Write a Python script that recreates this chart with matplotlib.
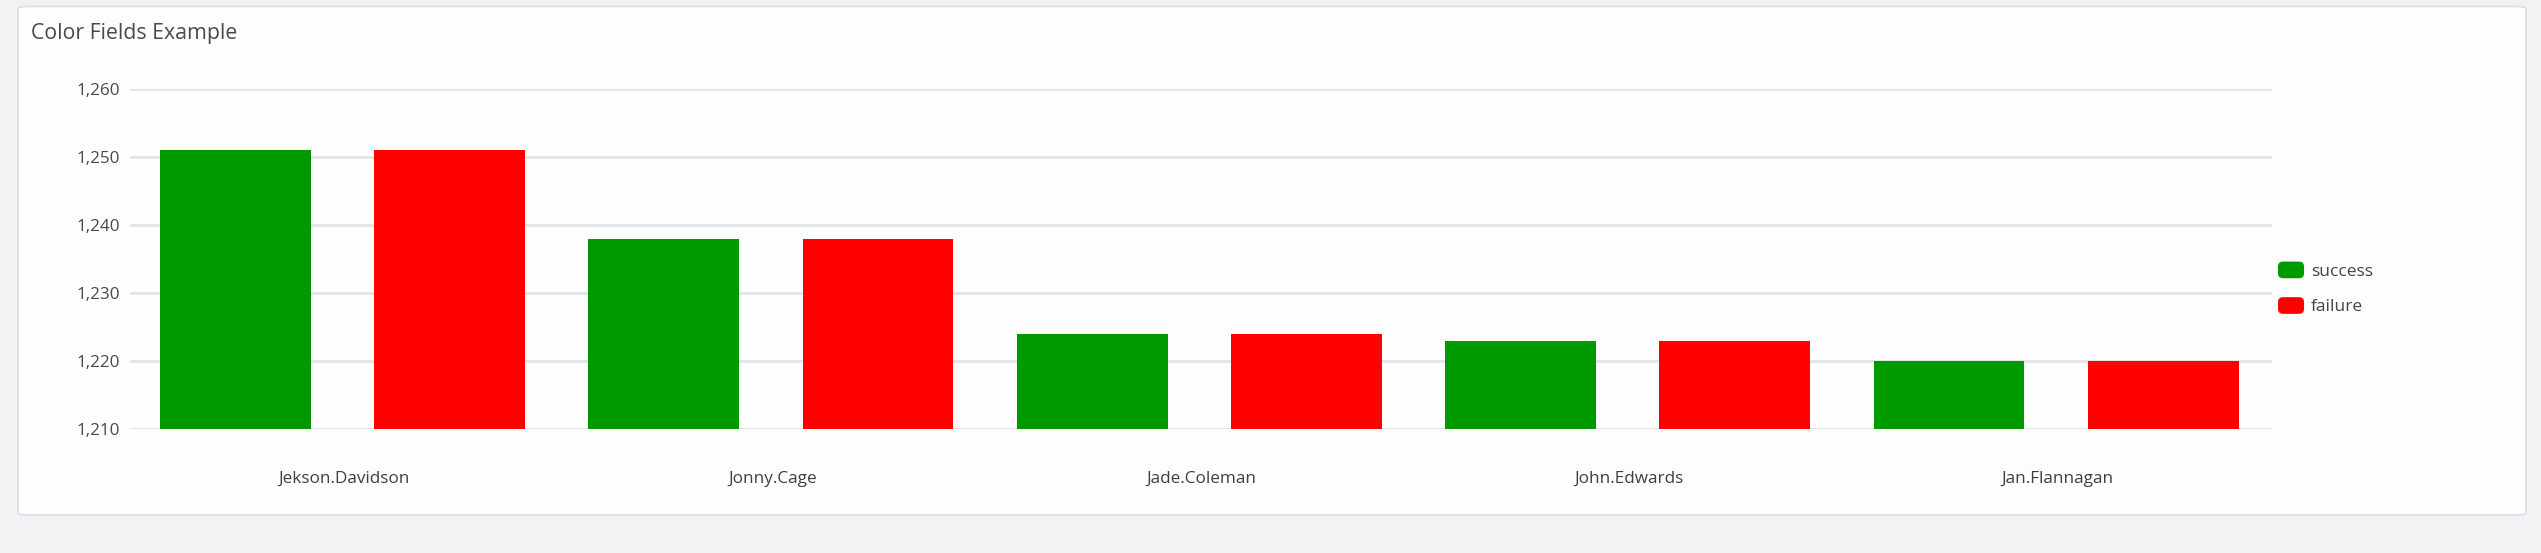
import matplotlib
matplotlib.use("Agg")
import matplotlib.pyplot as plt
from matplotlib.patches import FancyBboxPatch, Patch
from matplotlib.legend_handler import HandlerPatch
from matplotlib.ticker import FuncFormatter
import numpy as np

plt.rcParams['font.family'] = ['Open Sans', 'DejaVu Sans']

title = "Color Fields Example"
categories = ["Jekson.Davidson", "Jonny.Cage", "Jade.Coleman", "John.Edwards", "Jan.Flannagan"]
series_names = ["success", "failure"]
success = [1251, 1238, 1224, 1223, 1220]
failure = [1251, 1238, 1224, 1223, 1220]
colors = ["#009900", "#ff0000"]
yticks = [1210, 1220, 1230, 1240, 1250, 1260]

W, H = 2541, 553
fig = plt.figure(figsize=(W / 100, H / 100), dpi=100)
fig.patch.set_facecolor("#f1f2f4")

# card
card = FancyBboxPatch((18 / W, 1 - 515 / H), (2526 - 18) / W, (515 - 6.5) / H,
                      boxstyle="round,pad=0,rounding_size=0.004",
                      transform=fig.transFigure, facecolor="#fdfdfe",
                      edgecolor="#dcdfe3", linewidth=1.2, zorder=-10)
fig.patches.append(card)

fig.text(31 / W, 1 - 34 / H, title, fontsize=15.3, color="#4a4a4a",
         ha="left", va="center")

ax = fig.add_axes([130 / W, 1 - 429 / H, (2272 - 130) / W, 340 / H])
ax.set_facecolor("none")
x = np.arange(len(categories))
bw = 0.352
ax.bar(x - 0.254, np.array(success) - yticks[0], bottom=yticks[0], width=bw,
       color=colors[0], zorder=3, label=series_names[0])
ax.bar(x + 0.246, np.array(failure) - yticks[0], bottom=yticks[0], width=bw,
       color=colors[1], zorder=3, label=series_names[1])

ax.set_xlim(-0.5, len(categories) - 0.5)
ax.set_ylim(yticks[0], yticks[-1])
ax.set_yticks(yticks)
ax.yaxis.set_major_formatter(FuncFormatter(lambda v, p: f"{int(v):,}"))
ax.set_xticks(x)
ax.set_xticklabels(categories)
ax.grid(axis="y", color="#e3e4e8", linewidth=2, zorder=0)
ax.set_axisbelow(True)
for s in ax.spines.values():
    s.set_visible(False)
ax.tick_params(axis="y", length=0, pad=7, labelsize=12.3, labelcolor="#4a4a4a")
ax.tick_params(axis="x", length=0, pad=30, labelsize=12.3, labelcolor="#3f3f3f")


class RoundHandler(HandlerPatch):
    def create_artists(self, legend, orig_handle, xdescent, ydescent,
                       width, height, fontsize, trans):
        p = FancyBboxPatch((-xdescent, -ydescent), width, height,
                           boxstyle="round,pad=0,rounding_size=%f" % (height * 0.3),
                           facecolor=orig_handle.get_facecolor(),
                           edgecolor="none", transform=trans)
        return [p]


handles = [Patch(facecolor=c, edgecolor=c, label=n) for c, n in zip(colors, series_names)]
leg = fig.legend(handles=handles, loc="center left",
                 bbox_to_anchor=(2278 / W, 1 - 288.5 / H), frameon=False,
                 fontsize=12.5, handlelength=1.5, handleheight=1.1,
                 handletextpad=0.4, labelspacing=1.0, borderpad=0, borderaxespad=0,
                 handler_map={Patch: RoundHandler()})
for t in leg.get_texts():
    t.set_color("#444444")

fig.savefig("out.png", dpi=100, facecolor=fig.get_facecolor())
